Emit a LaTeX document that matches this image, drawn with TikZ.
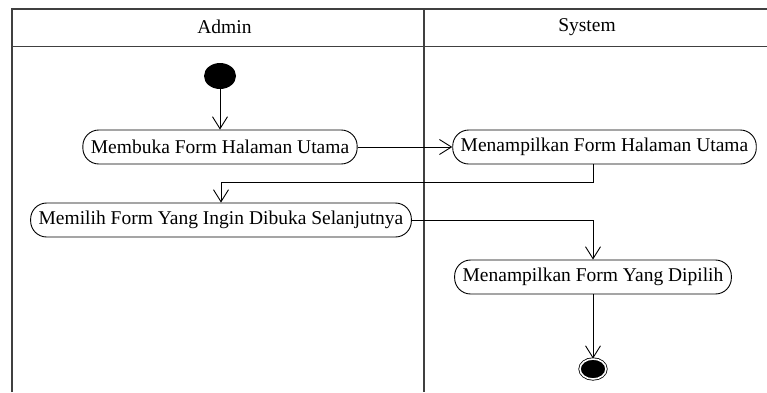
\documentclass[tikz,border=0pt]{standalone}
\usepackage{fontspec}
\setmainfont{Liberation Serif}
\usetikzlibrary{arrows.meta,shapes.geometric}

\begin{document}
\begin{tikzpicture}[x=1pt, y=-1pt,
        font=\fontsize{19.5}{22}\selectfont,
        flow/.style={line width=0.9pt,
            -{Straight Barb[length=12pt, width=15pt, line width=0.9pt]}},
        action/.style={draw, line width=0.9pt, rectangle, rounded corners=16pt,
            minimum height=34pt, inner xsep=8pt, inner ysep=2pt},
        initial/.style={ellipse, fill=black, minimum width=32pt,
            minimum height=26pt, inner sep=0pt},
        final/.style={ellipse, draw, fill=black, double=white,
            double distance=1.6pt, line width=0.8pt, minimum width=26pt,
            minimum height=20pt, inner sep=0pt}]
    \useasboundingbox (0, 0) rectangle (767, 392);
    % swimlanes
    \draw[line width=1.4pt, black!75]
        (12, 392) -- (12, 9) -- (767, 9)
        (12, 46.5) -- (767, 46.5)
        (424, 9) -- (424, 392);
    \node (admin) at (224.5, 27) {Admin};
    \node (system) at (587, 27) {System};
    % activities
    \node[initial] (start) at (220, 76) {};
    \node[action] (membuka) at (220, 147) {Membuka Form Halaman Utama};
    \node[action] (tampilutama) at (604.5, 147) {Menampilkan Form Halaman Utama};
    \node[action] (pilih) at (221, 220) {Memilih Form Yang Ingin Dibuka Selanjutnya};
    \node[action] (tampilpilih) at (593, 277) {Menampilkan Form Yang Dipilih};
    \node[final] (finish) at (593, 369) {};
    % flows
    \draw[flow] (start) -- (membuka);
    \draw[flow] (membuka) -- (tampilutama);
    \draw[flow] (tampilutama.south -| tampilpilih.north) -- ++(0, 18) -| (pilih.north);
    \draw[flow] (pilih.east) -| (tampilpilih.north);
    \draw[flow] (tampilpilih) -- (finish);
\end{tikzpicture}
\end{document}
